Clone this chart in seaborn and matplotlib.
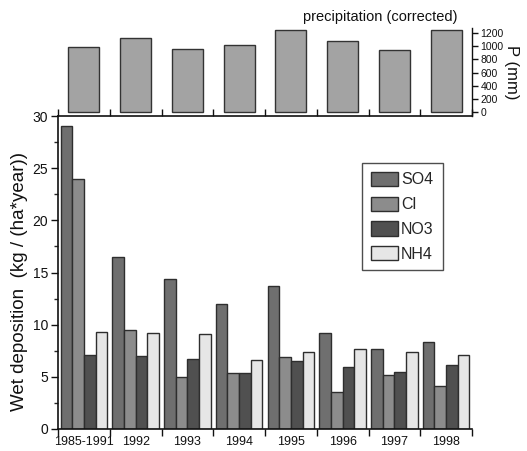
import matplotlib
matplotlib.use("Agg")
import matplotlib.pyplot as plt
import seaborn as sns
import pandas as pd
import numpy as np
from matplotlib.ticker import MultipleLocator, FixedLocator

years = ["1985-1991", "1992", "1993", "1994", "1995", "1996", "1997", "1998"]
ions = ["SO4", "Cl", "NO3", "NH4"]
so4 = [29.0, 16.5, 14.4, 12.0, 13.7, 9.2, 7.7, 8.3]
cl = [24.0, 9.5, 5.0, 5.4, 6.9, 3.55, 5.2, 4.1]
no3 = [7.1, 7.0, 6.7, 5.4, 6.5, 5.9, 5.5, 6.1]
nh4 = [9.3, 9.2, 9.1, 6.6, 7.4, 7.7, 7.35, 7.1]
precip = [985, 1135, 960, 1015, 1250, 1085, 950, 1245]

colors = {"SO4": "#6f6f6f", "Cl": "#8c8c8c", "NO3": "#505050", "NH4": "#e6e6e6"}

rows = []
for ion, vals in zip(ions, [so4, cl, no3, nh4]):
    for y, v in zip(years, vals):
        rows.append({"year": y, "ion": ion, "value": v})
df = pd.DataFrame(rows)
dfp = pd.DataFrame({"year": years, "precip": precip})

sns.set_theme(style="white")
FONT = ["Liberation Sans", "DejaVu Sans"]
plt.rcParams["font.family"] = FONT

W, H = 527, 451
fig = plt.figure(figsize=(W / 100, H / 100), dpi=100)

def box(x0, y0, x1, y1):
    return [x0 / W, 1 - y1 / H, (x1 - x0) / W, (y1 - y0) / H]

ax = fig.add_axes(box(58, 116, 472, 429))
axp = fig.add_axes(box(58, 28, 472, 116))

sns.barplot(data=df, x="year", y="value", hue="ion", hue_order=ions, order=years,
            palette=colors, width=0.9, edgecolor="#2e2e2e", linewidth=1.0,
            saturation=1, ax=ax)
ax.set_xlim(-0.5, 7.5)
ax.set_ylim(0, 30)
for s in ["left", "bottom", "top"]:
    ax.spines[s].set_visible(True)
    ax.spines[s].set_color("#111111")
    ax.spines[s].set_linewidth(1.2)
ax.spines["right"].set_visible(False)
ax.yaxis.set_major_locator(MultipleLocator(5))
ax.yaxis.set_minor_locator(MultipleLocator(2.5))
ax.tick_params(axis="y", which="major", direction="out", length=5, width=1, left=True,
               labelsize=10, colors="#111111", pad=2)
ax.tick_params(axis="y", which="minor", direction="out", length=3, width=1, left=True)
ax.xaxis.set_major_locator(FixedLocator(np.arange(-0.5, 8.0, 1.0)))
ax.xaxis.set_minor_locator(FixedLocator(np.arange(0, 8)))
ax.set_xticklabels([], minor=False)
ax.set_xticklabels(years, minor=True)
ax.tick_params(axis="x", which="major", direction="out", length=5, width=1,
               bottom=True, top=True, colors="#111111")
ax.tick_params(axis="x", which="minor", length=0, labelsize=9, pad=5, colors="#111111")
ax.set_xlabel("")
ax.set_ylabel("Wet deposition  (kg / (ha*year))", fontsize=13.5, color="#111111")
ax.yaxis.set_label_coords(-0.072, 0.47)

leg = ax.legend(loc="upper left", bbox_to_anchor=((362 - 58) / 414, 1 - (163 - 116) / 313),
                frameon=True, fancybox=False, fontsize=11.5, handlelength=1.7, handleheight=1.0,
                labelspacing=0.57, handletextpad=0.2, borderpad=0.55, borderaxespad=0)
leg.get_frame().set_edgecolor("#222222")
leg.get_frame().set_linewidth(1.0)

sns.barplot(data=dfp, x="year", y="precip", order=years, color="#a3a3a3", width=0.6,
            edgecolor="#333333", linewidth=1.0, saturation=1, ax=axp)
axp.set_xlim(-0.5, 7.5)
axp.set_ylim(-61, 1280)
for s in ["left", "bottom", "top"]:
    axp.spines[s].set_visible(False)
axp.spines["right"].set_visible(True)
axp.spines["right"].set_color("#111111")
axp.spines["right"].set_linewidth(1.0)
axp.set_xticks([])
axp.set_xlabel("")
axp.yaxis.tick_right()
axp.yaxis.set_label_position("right")
axp.yaxis.set_major_locator(FixedLocator(np.arange(0, 1201, 200)))
axp.tick_params(axis="y", direction="out", length=4, width=1, right=True, left=False,
                labelsize=7.5, pad=2, colors="#111111")
axp.set_ylabel("P (mm)", rotation=270, fontsize=12, labelpad=11, color="#111111")
axp.patch.set_alpha(0)

fig.text(380 / W, 1 - 17 / H, "precipitation (corrected)", ha="center", va="center",
         fontsize=10.5, color="#111111")

fig.savefig("out.png", dpi=100)
